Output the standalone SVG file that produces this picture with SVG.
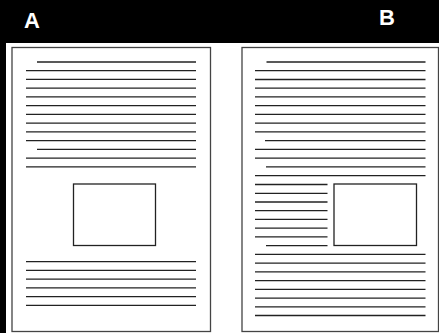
<svg xmlns="http://www.w3.org/2000/svg" width="439" height="333" viewBox="0 0 439 333">
<style>
.lbl{font-family:"Liberation Sans",Arial,sans-serif;font-weight:bold;font-size:22px;fill:#fff}
.page{fill:#fff;stroke:#444;stroke-width:1.3}
.pic{fill:#fff;stroke:#222;stroke-width:1.3}
.ln line{stroke:#222;stroke-width:1.3}
</style>
<rect x="0" y="0" width="439" height="333" fill="#fff"/>
<rect x="0" y="0" width="439" height="43" fill="#000"/>
<rect x="0" y="0" width="6" height="333" fill="#000"/>
<text class="lbl" x="24" y="27.5">A</text>
<text class="lbl" x="379" y="24.5">B</text>
<g id="pageA">
<rect class="page" x="12" y="47.5" width="198.5" height="284"/>
<g class="ln">
<line x1="37" y1="62" x2="196" y2="62"/>
<line x1="26" y1="70.7" x2="196" y2="70.7"/>
<line x1="26" y1="79.4" x2="196" y2="79.4"/>
<line x1="26" y1="88.2" x2="196" y2="88.2"/>
<line x1="26" y1="96.9" x2="196" y2="96.9"/>
<line x1="26" y1="105.6" x2="196" y2="105.6"/>
<line x1="26" y1="114.4" x2="196" y2="114.4"/>
<line x1="26" y1="123.1" x2="196" y2="123.1"/>
<line x1="26" y1="131.9" x2="196" y2="131.9"/>
<line x1="26" y1="140.6" x2="196" y2="140.6"/>
<line x1="37" y1="149.3" x2="196" y2="149.3"/>
<line x1="26" y1="158.1" x2="196" y2="158.1"/>
<line x1="26" y1="166.8" x2="196" y2="166.8"/>
<line x1="26" y1="261.7" x2="196" y2="261.7"/>
<line x1="26" y1="270.4" x2="196" y2="270.4"/>
<line x1="26" y1="279.1" x2="196" y2="279.1"/>
<line x1="26" y1="287.9" x2="196" y2="287.9"/>
<line x1="26" y1="296.6" x2="196" y2="296.6"/>
<line x1="26" y1="305.3" x2="196" y2="305.3"/>
</g>
<rect class="pic" x="73.5" y="184" width="82" height="61.5"/>
</g>
<g id="pageB">
<rect class="page" x="242" y="47.5" width="196.5" height="284"/>
<g class="ln">
<line x1="266.5" y1="62" x2="425.5" y2="62"/>
<line x1="255" y1="70.7" x2="425.5" y2="70.7"/>
<line x1="255" y1="79.5" x2="425.5" y2="79.5"/>
<line x1="255" y1="88.2" x2="425.5" y2="88.2"/>
<line x1="255" y1="96.9" x2="425.5" y2="96.9"/>
<line x1="255" y1="105.7" x2="425.5" y2="105.7"/>
<line x1="255" y1="114.4" x2="425.5" y2="114.4"/>
<line x1="255" y1="123.1" x2="425.5" y2="123.1"/>
<line x1="255" y1="131.9" x2="425.5" y2="131.9"/>
<line x1="265" y1="140.6" x2="425.5" y2="140.6"/>
<line x1="255" y1="149.4" x2="425.5" y2="149.4"/>
<line x1="255" y1="158.1" x2="425.5" y2="158.1"/>
<line x1="266" y1="166.8" x2="425.5" y2="166.8"/>
<line x1="255" y1="175.6" x2="425.5" y2="175.6"/>
<line x1="255" y1="184.5" x2="327.5" y2="184.5"/>
<line x1="255" y1="193.3" x2="327.5" y2="193.3"/>
<line x1="255" y1="202" x2="327.5" y2="202"/>
<line x1="255" y1="210.7" x2="327.5" y2="210.7"/>
<line x1="255" y1="219.4" x2="327.5" y2="219.4"/>
<line x1="255" y1="228.2" x2="327.5" y2="228.2"/>
<line x1="255" y1="236.9" x2="327.5" y2="236.9"/>
<line x1="266" y1="245.7" x2="327.5" y2="245.7"/>
<line x1="255" y1="254.4" x2="425.5" y2="254.4"/>
<line x1="255" y1="263.2" x2="425.5" y2="263.2"/>
<line x1="255" y1="271.9" x2="425.5" y2="271.9"/>
<line x1="255" y1="280.6" x2="425.5" y2="280.6"/>
<line x1="255" y1="289.4" x2="425.5" y2="289.4"/>
<line x1="255" y1="298.1" x2="425.5" y2="298.1"/>
<line x1="255" y1="306.8" x2="425.5" y2="306.8"/>
<line x1="255" y1="315.5" x2="425.5" y2="315.5"/>
</g>
<rect class="pic" x="334" y="184" width="82.5" height="61.5"/>
</g>
</svg>
